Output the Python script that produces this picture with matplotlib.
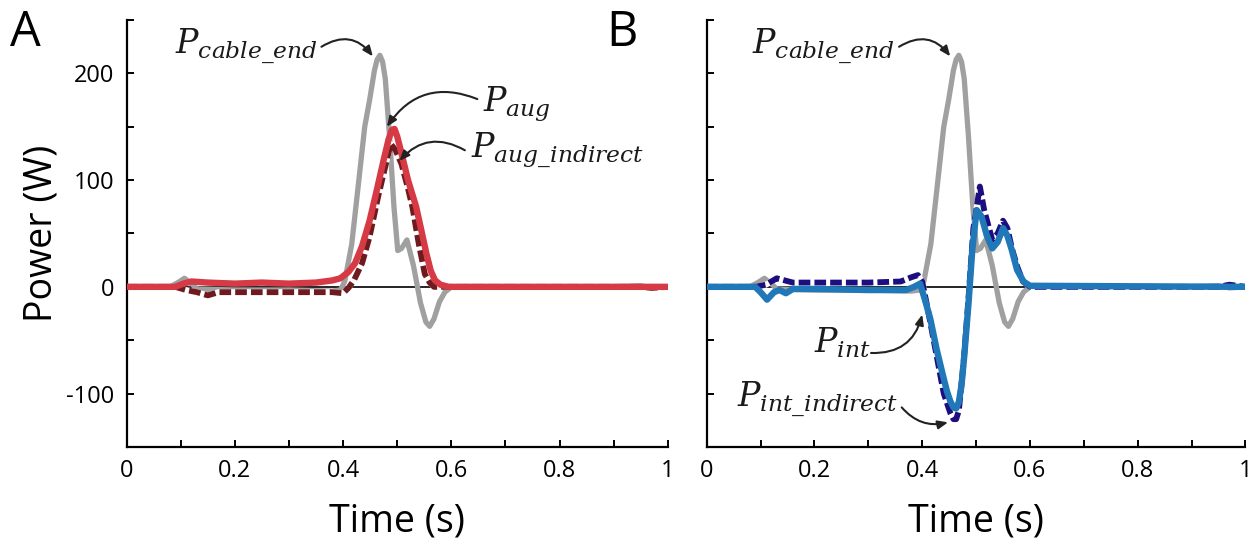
import matplotlib
matplotlib.use("Agg")
import matplotlib.pyplot as plt

plt.rcParams['font.family'] = ['Open Sans', 'DejaVu Sans']
plt.rcParams['mathtext.fontset'] = 'custom'
plt.rcParams['mathtext.it'] = 'DejaVu Serif:italic'
plt.rcParams['mathtext.rm'] = 'DejaVu Serif'

# cable end power (same trace in both panels)
t_cable = [0, 0.08, 0.095, 0.107, 0.12, 0.13, 0.2, 0.3, 0.38, 0.395, 0.403, 0.416, 0.425, 0.44,
           0.449, 0.458, 0.463, 0.468, 0.473, 0.478, 0.486, 0.494, 0.501, 0.508, 0.518, 0.53,
           0.543, 0.553, 0.56, 0.568, 0.578, 0.588, 0.6, 0.7, 0.9, 0.95, 0.97, 1.0]
p_cable = [0, 0, 4, 8, 3, -2, -3, -3, -4, -3, 5, 40, 81, 150, 175, 203, 213, 217, 211, 195,
           140, 75, 34, 36, 44, 20, -15, -33, -37, -30, -14, -5, 0, 0, 0, 1, -1, 0]

# panel A
t_aug = [0, 0.09, 0.105, 0.12, 0.15, 0.2, 0.25, 0.3, 0.35, 0.38, 0.395, 0.41, 0.422, 0.435,
         0.449, 0.462, 0.475, 0.484, 0.49, 0.495, 0.5, 0.508, 0.52, 0.535, 0.545, 0.554, 0.562,
         0.57, 0.58, 0.595, 0.65, 1.0]
p_aug = [0, 0, 3, 5, 4, 3, 4, 3, 4, 6, 8, 14, 22, 38, 62, 90, 119, 138, 147, 148, 141, 125,
         100, 75, 52, 31, 15, 6, 2, 0, 0, 0]

t_aug_ind = [0, 0.09, 0.11, 0.13, 0.15, 0.17, 0.2, 0.3, 0.38, 0.4, 0.41, 0.42, 0.435, 0.449,
             0.465, 0.479, 0.488, 0.497, 0.508, 0.52, 0.528, 0.54, 0.551, 0.56, 0.568, 0.6,
             0.95, 0.97, 1.0]
p_aug_ind = [0, 0, -3, -5, -8, -5, -5, -5, -5, -6, -1, 6, 22, 47, 85, 115, 134, 128, 115, 92,
             75, 40, 12, 4, 0, 0, 0, -1, 0]

# panel B
t_int_ind = [0, 0.09, 0.11, 0.13, 0.16, 0.2, 0.3, 0.36, 0.38, 0.392, 0.4, 0.41, 0.425, 0.44,
             0.452, 0.458, 0.463, 0.468, 0.477, 0.486, 0.495, 0.507, 0.515, 0.53, 0.54, 0.55,
             0.558, 0.567, 0.577, 0.587, 0.6, 0.95, 0.97, 1.0]
p_int_ind = [0, 0, 2, 8, 4, 4, 4, 5, 9, 11, 5, -20, -60, -100, -118, -124, -124, -116, -70,
             -10, 55, 94, 72, 44, 50, 62, 55, 35, 18, 5, 0, 0, 2, 0]

t_int = [0, 0.09, 0.1, 0.112, 0.125, 0.135, 0.147, 0.16, 0.2, 0.3, 0.37, 0.385, 0.396, 0.405,
         0.415, 0.427, 0.438, 0.446, 0.452, 0.458, 0.463, 0.468, 0.473, 0.478, 0.486, 0.493,
         0.501, 0.51, 0.52, 0.53, 0.54, 0.55, 0.558, 0.566, 0.576, 0.588, 0.6, 1.0]
p_int = [0, 0, -5, -12, -5, -3, -6, -2, -2, -3, -3, 0, 3, -12, -30, -59, -82, -98, -107,
         -113, -114, -108, -92, -65, -15, 35, 72, 66, 48, 36, 42, 55, 48, 35, 16, 5, 1, 0]

xticks = [0, 0.1, 0.2, 0.3, 0.4, 0.5, 0.6, 0.7, 0.8, 0.9, 1.0]
xticklabels = ['0', '', '0.2', '', '0.4', '', '0.6', '', '0.8', '', '1']
yticks = [-150, -100, -50, 0, 50, 100, 150, 200, 250]
yticklabels = ['', '-100', '', '0', '', '100', '', '200', '']

c_gray = '#a0a0a0'
c_red = '#d63a44'
c_darkred = '#6e1a1e'
c_navy = '#1c0e7e'
c_blue = '#2178b8'
c_arrow = '#222222'

fig = plt.figure(figsize=(12.53, 5.43), dpi=100)
axA = fig.add_axes([0.101, 0.177, 0.432, 0.786])
axB = fig.add_axes([0.564, 0.177, 0.430, 0.786])

for ax in (axA, axB):
    ax.set_xlim(0, 1)
    ax.set_ylim(-150, 250)
    ax.spines['top'].set_visible(False)
    ax.spines['right'].set_visible(False)
    ax.spines['left'].set_linewidth(1.6)
    ax.spines['bottom'].set_linewidth(1.6)
    ax.set_xticks(xticks)
    ax.set_xticklabels(xticklabels)
    ax.set_yticks(yticks)
    ax.tick_params(direction='in', length=5, width=1.4, labelsize=17, pad=9)
    ax.axhline(0, color='k', lw=1.2, zorder=1)
    ax.plot(t_cable, p_cable, color=c_gray, lw=3.8, zorder=2,
            solid_joinstyle='round', solid_capstyle='round')
    ax.set_xlabel('Time (s)', fontsize=27, labelpad=14)

axA.set_yticklabels(yticklabels)
axB.set_yticklabels([])
axA.set_ylabel('Power (W)', fontsize=27, labelpad=4)

# panel A traces
axA.plot(t_aug_ind, p_aug_ind, color='white', lw=4.2, zorder=3)
axA.plot(t_aug_ind, p_aug_ind, color=c_darkred, lw=4.2, ls=(0, (2.0, 0.7)), zorder=3)
axA.plot(t_aug, p_aug, color=c_red, lw=4.6, zorder=4, solid_joinstyle='round')

# panel B traces
axB.plot(t_int_ind, p_int_ind, color='white', lw=4.2, zorder=3)
axB.plot(t_int_ind, p_int_ind, color=c_navy, lw=4.2, ls=(0, (2.0, 0.7)), zorder=3)
axB.plot(t_int, p_int, color=c_blue, lw=4.6, zorder=4, solid_joinstyle='round')

def label(ax, x, y, txt):
    ax.text(x, y, txt, fontsize=24, ha='left', va='baseline', color='#1a1a1a')

def arrow(ax, start, end, rad):
    ax.annotate('', xy=end, xytext=start,
                arrowprops=dict(arrowstyle='-|>,head_length=0.6,head_width=0.25',
                                connectionstyle='arc3,rad=%s' % rad,
                                color=c_arrow, lw=1.5, shrinkA=0, shrinkB=0),
                zorder=6)

label(axA, 0.089, 219, r'$P_{cable\_end}$')
arrow(axA, (0.36, 225), (0.455, 216), -0.45)
label(axA, 0.658, 164, r'$P_{aug}$')
arrow(axA, (0.648, 176), (0.481, 150), 0.4)
label(axA, 0.636, 121, r'$P_{aug\_indirect}$')
arrow(axA, (0.625, 128), (0.504, 118), 0.4)

label(axB, 0.084, 219, r'$P_{cable\_end}$')
arrow(axB, (0.357, 225), (0.452, 216), -0.45)
label(axB, 0.199, -62, r'$P_{int}$')
arrow(axB, (0.305, -62), (0.40, -26), 0.4)
label(axB, 0.056, -112, r'$P_{int\_indirect}$')
arrow(axB, (0.362, -113), (0.448, -127), 0.3)

fig.text(0.008, 0.915, 'A', fontsize=35)
fig.text(0.484, 0.915, 'B', fontsize=35)

fig.savefig('out.png', dpi=100)
